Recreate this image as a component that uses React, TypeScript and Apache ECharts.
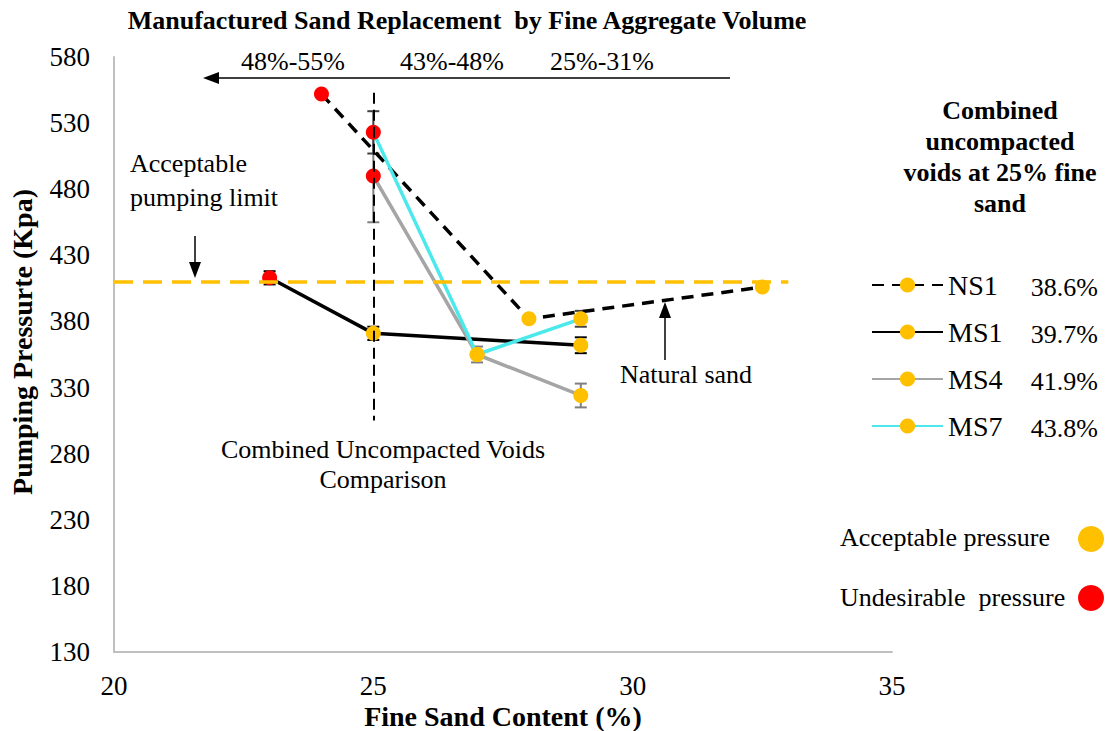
import React, { useEffect, useRef } from "react";
import * as echarts from "echarts";

const FONT = "Liberation Serif";
const ORANGE = "#FFC000";
const RED = "#FF0000";

const LIMIT = 410;
const SERIES_NAMES = ["NS1", "MS1", "MS4", "MS7"];
const VOIDS = ["38.6%", "39.7%", "41.9%", "43.8%"];
const RANGE_LABELS = ["48%-55%", "43%-48%", "25%-31%"];

const NS1_X = [24, 28, 32.5];
const NS1_Y = [552, 382, 406];

const MS1_X = [23, 25, 29];
const MS1_Y = [413, 371, 362];
const MS1_ERR = [5, 5, 6];

const MS4_X = [25, 27, 29];
const MS4_Y = [490, 355, 324];
const MS4_ERR = [35, 6, 9];

const MS7_X = [25, 27, 29];
const MS7_Y = [523, 355, 382];
const MS7_ERR = [16, 0, 6];

const pts = (xs: number[], ys: number[]) =>
  xs.map((x, i) => ({
    value: [x, ys[i]],
    itemStyle: { color: ys[i] > LIMIT ? RED : ORANGE },
  }));

const errData = (xs: number[], ys: number[], es: number[]) =>
  xs
    .map((x, i) => [x, ys[i] - es[i], ys[i] + es[i]])
    .filter((d) => d[2] - d[1] > 0);

const errSeries = (name: string, data: number[][], color: string) => ({
  type: "custom",
  name,
  z: 1,
  silent: true,
  encode: { x: 0, y: [1, 2] },
  data,
  renderItem: (_p: any, api: any) => {
    const x = api.value(0);
    const lo = api.coord([x, api.value(1)]);
    const hi = api.coord([x, api.value(2)]);
    const hw = 6;
    const style = { stroke: color, lineWidth: 2 };
    return {
      type: "group",
      children: [
        { type: "line", shape: { x1: lo[0], y1: lo[1], x2: hi[0], y2: hi[1] }, style },
        { type: "line", shape: { x1: lo[0] - hw, y1: lo[1], x2: lo[0] + hw, y2: lo[1] }, style },
        { type: "line", shape: { x1: hi[0] - hw, y1: hi[1], x2: hi[0] + hw, y2: hi[1] }, style },
      ],
    };
  },
});

const txt = (x: number, y: number, text: string, opts: any = {}) => ({
  type: "text",
  x,
  y,
  style: {
    text,
    fontFamily: FONT,
    fontSize: opts.size || 26,
    fontWeight: opts.bold ? "bold" : "normal",
    fill: "#000",
    align: opts.align || "left",
    verticalAlign: "middle",
  },
  rotation: opts.rotation || 0,
});

export default function App() {
  const ref = useRef<HTMLDivElement>(null);

  useEffect(() => {
    if (!ref.current) return;
    const chart = echarts.init(ref.current, null, { renderer: "svg" });

    const lineCommon = {
      type: "line",
      symbol: "circle",
      symbolSize: 15,
      z: 3,
      itemStyle: { color: ORANGE },
      emphasis: { disabled: true },
    };

    const option: any = {
      animation: false,
      backgroundColor: "#fff",
      textStyle: { fontFamily: FONT },
      grid: { left: 114, top: 57, width: 778, height: 595, containLabel: false },
      xAxis: {
        type: "value",
        min: 20,
        max: 35,
        interval: 5,
        axisLine: { show: true, lineStyle: { color: "#BFBFBF", width: 2 } },
        axisTick: { show: false },
        splitLine: { show: false },
        axisLabel: { fontFamily: FONT, fontSize: 27, color: "#000", margin: 20 },
      },
      yAxis: {
        type: "value",
        min: 130,
        max: 580,
        interval: 10,
        axisLine: { show: true, lineStyle: { color: "#BFBFBF", width: 2 } },
        axisTick: { show: false },
        splitLine: { show: false },
        axisLabel: {
          fontFamily: FONT,
          fontSize: 27,
          color: "#000",
          margin: 24,
          formatter: (v: number) => ((v - 130) % 50 === 0 ? String(v) : ""),
        },
      },
      legend: {
        orient: "vertical",
        left: 866,
        top: 266,
        itemWidth: 71,
        itemHeight: 19,
        itemGap: 19,
        selectedMode: false,
        data: SERIES_NAMES,
        textStyle: {
          fontFamily: FONT,
          fontSize: 28,
          color: "#000",
          lineHeight: 28,
        },
      },
      series: [
        errSeries("MS1 err", errData(MS1_X, MS1_Y, MS1_ERR), "#000"),
        errSeries("MS4 err", errData(MS4_X, MS4_Y, MS4_ERR), "#7F7F7F"),
        errSeries("MS7 err", errData(MS7_X, MS7_Y, MS7_ERR), "#404040"),
        {
          ...lineCommon,
          name: "NS1",
          data: pts(NS1_X, NS1_Y),
          lineStyle: { color: "#000", width: 3.5, type: [12, 8] },
        },
        {
          ...lineCommon,
          name: "MS1",
          data: pts(MS1_X, MS1_Y),
          lineStyle: { color: "#000", width: 3.5 },
          markLine: {
            silent: true,
            symbol: ["none", "none"],
            label: { show: false },
            data: [
              [
                { coord: [20, LIMIT], lineStyle: { color: ORANGE, width: 3.5, type: [19, 10] } },
                { coord: [33, LIMIT] },
              ],
              [
                { coord: [25, 553], lineStyle: { color: "#000", width: 2, type: [11, 6] } },
                { coord: [25, 305] },
              ],
            ],
          },
        },
        {
          ...lineCommon,
          name: "MS4",
          data: pts(MS4_X, MS4_Y),
          lineStyle: { color: "#A5A5A5", width: 3.5 },
        },
        {
          ...lineCommon,
          name: "MS7",
          data: pts(MS7_X, MS7_Y),
          lineStyle: { color: "#4BE9EB", width: 3.5 },
        },
      ],
      graphic: [
        txt(467, 20, "Manufactured Sand Replacement  by Fine Aggregate Volume", { bold: true, align: "center" }),
        txt(293, 61, RANGE_LABELS[0], { align: "center" }),
        txt(452, 61, RANGE_LABELS[1], { align: "center" }),
        txt(602, 61, RANGE_LABELS[2], { align: "center" }),
        { type: "line", shape: { x1: 730, y1: 78, x2: 214, y2: 78 }, style: { stroke: "#000", lineWidth: 1.5 } },
        { type: "polygon", shape: { points: [[203, 78], [219, 72], [219, 84]] }, style: { fill: "#000" } },
        txt(130, 163, "Acceptable"),
        txt(130, 197, "pumping limit"),
        { type: "line", shape: { x1: 195, y1: 236, x2: 195, y2: 266 }, style: { stroke: "#000", lineWidth: 1.5 } },
        { type: "polygon", shape: { points: [[195, 278], [189, 262], [201, 262]] }, style: { fill: "#000" } },
        txt(383, 449, "Combined Uncompacted Voids", { align: "center" }),
        txt(383, 479, "Comparison", { align: "center" }),
        txt(620, 374, "Natural sand"),
        { type: "line", shape: { x1: 665, y1: 360, x2: 665, y2: 314 }, style: { stroke: "#000", lineWidth: 1.5 } },
        { type: "polygon", shape: { points: [[665, 302], [659, 318], [671, 318]] }, style: { fill: "#000" } },
        txt(1000, 110, "Combined", { bold: true, align: "center" }),
        txt(1000, 141, "uncompacted", { bold: true, align: "center" }),
        txt(1000, 172, "voids at 25% fine", { bold: true, align: "center" }),
        txt(1000, 203, "sand", { bold: true, align: "center" }),
        ...VOIDS.map((v, i) => txt(1098, 287 + i * 47, v, { align: "right" })),
        txt(840, 537, "Acceptable pressure"),
        { type: "circle", shape: { cx: 1091, cy: 539, r: 13 }, style: { fill: ORANGE } },
        txt(840, 597, "Undesirable  pressure"),
        { type: "circle", shape: { cx: 1091, cy: 598, r: 13 }, style: { fill: RED } },
        txt(503, 716, "Fine Sand Content (%)", { bold: true, size: 28, align: "center" }),
        txt(22, 342, "Pumping Pressurte (Kpa)", { bold: true, size: 28, align: "center", rotation: Math.PI / 2 }),
      ],
    };

    chart.setOption(option);
    return () => chart.dispose();
  }, []);

  return (
    <div
      ref={ref}
      style={{ position: "fixed", left: 0, top: 0, width: 1108, height: 731, background: "#fff" }}
    />
  );
}
